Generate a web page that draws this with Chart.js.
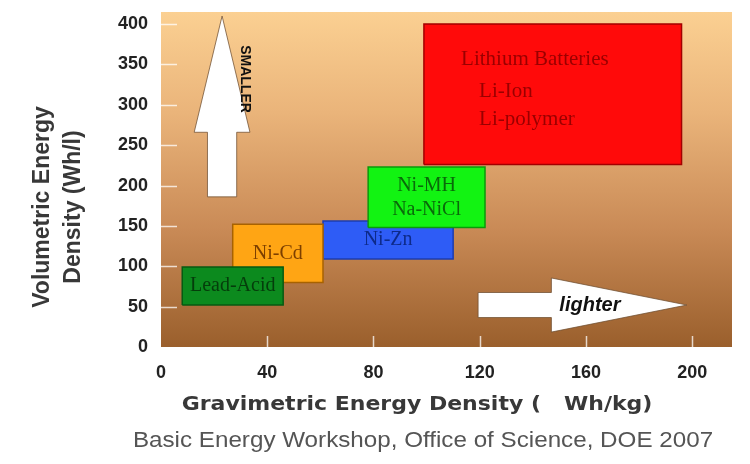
<!DOCTYPE html>
<html>
<head>
<meta charset="utf-8">
<title>Energy density of battery technologies</title>
<style>
  html, body { margin: 0; padding: 0; background: #ffffff; }
  #wrap { width: 750px; height: 464px; }
</style>
<script src="https://cdn.jsdelivr.net/npm/chart.js@4.4.1/dist/chart.umd.min.js"></script>
</head>
<body>
<div id="wrap"><canvas id="chart" width="750" height="464"></canvas></div>
<script>
// Battery technologies and their energy density ranges
const technologies = ['Lead-Acid', 'Ni-Cd', 'Ni-MH', 'Ni-Zn', 'Lithium Batteries'];
const gravMin = [8, 27, 78, 61, 99];      // Wh/kg
const gravMax = [46, 61, 122, 110, 196];  // Wh/kg
const volMin = [52, 80, 148, 109, 226];   // Wh/l
const volMax = [99, 152, 223, 156, 400];  // Wh/l
const boxLabels = [
  ['Lead-Acid'],
  ['Ni-Cd'],
  ['Ni-MH', 'Na-NiCl'],
  ['Ni-Zn'],
  ['Lithium Batteries', 'Li-Ion', 'Li-polymer']
];
const xTicks = [0, 40, 80, 120, 160, 200];
const yTicks = [0, 50, 100, 150, 200, 250, 300, 350, 400];

// Styling for each technology box
const fillColors = ['#0c8a1e', '#ffa514', '#12f312', '#2e5cf6', '#ff0a0a'];
const borderColors = ['#075a12', '#a86200', '#0a9a0a', '#1d3cb0', '#a30000'];
const textColors = ['#053d0b', '#7c3f00', '#0a6a0a', '#0d2a8a', '#9a0000'];

const AXIS_FONT = 'Liberation Sans';

const datasets = technologies.map((name, i) => ({
  label: name,
  data: [
    { x: gravMin[i], y: volMin[i] },
    { x: gravMax[i], y: volMin[i] },
    { x: gravMax[i], y: volMax[i] },
    { x: gravMin[i], y: volMax[i] },
    { x: gravMin[i], y: volMin[i] }
  ],
  showLine: true,
  fill: 'shape',
  backgroundColor: fillColors[i],
  borderColor: borderColors[i],
  borderWidth: 1.5,
  pointRadius: 0,
  pointHoverRadius: 0,
  tension: 0
}));

// Warm gradient behind the plotting area
const backdrop = {
  id: 'backdrop',
  beforeDraw(chart) {
    const { ctx, chartArea: a } = chart;
    const g = ctx.createLinearGradient(0, a.top, 0, a.bottom);
    g.addColorStop(0, '#fbd092');
    g.addColorStop(0.3, '#eab47a');
    g.addColorStop(0.65, '#c98a56');
    g.addColorStop(1, '#9a5f2c');
    ctx.save();
    ctx.fillStyle = g;
    ctx.fillRect(a.left, a.top, a.right - a.left, a.bottom - a.top);
    ctx.restore();
  }
};

// Short white tick marks just inside the plotting area
const innerTicks = {
  id: 'innerTicks',
  beforeDatasetsDraw(chart) {
    const { ctx, chartArea: a, scales: { x, y } } = chart;
    ctx.save();
    ctx.strokeStyle = 'rgba(255,255,255,0.75)';
    ctx.lineWidth = 1.5;
    ctx.beginPath();
    yTicks.forEach(v => {
      if (v === 0) return;
      const py = Math.round(y.getPixelForValue(v)) + 0.5;
      ctx.moveTo(a.left, py);
      ctx.lineTo(a.left + 16, py);
    });
    xTicks.forEach(v => {
      if (v === 0) return;
      const px = Math.round(x.getPixelForValue(v)) + 0.5;
      ctx.moveTo(px, a.bottom);
      ctx.lineTo(px, a.bottom - 11);
    });
    ctx.stroke();
    ctx.restore();
  }
};

// Labels inside the boxes and the two direction arrows
const annotations = {
  id: 'annotations',
  afterDatasetsDraw(chart) {
    const { ctx, scales: { x, y } } = chart;
    ctx.save();
    ctx.textBaseline = 'middle';
    technologies.forEach((name, i) => {
      const lines = boxLabels[i];
      ctx.fillStyle = textColors[i];
      if (lines.length === 3) {
        // lithium box: left-aligned list
        ctx.font = '21px "Liberation Serif"';
        ctx.textAlign = 'left';
        const x0 = x.getPixelForValue(gravMin[i] + 14);
        const yTop = y.getPixelForValue(volMax[i]);
        ctx.fillText(lines[0], x0, yTop + 35);
        ctx.fillText(lines[1], x0 + 18, yTop + 67);
        ctx.fillText(lines[2], x0 + 18, yTop + 95);
      } else {
        ctx.font = '20px "Liberation Serif"';
        ctx.textAlign = 'center';
        const cx = x.getPixelForValue((gravMin[i] + gravMax[i]) / 2);
        const cy = y.getPixelForValue((volMin[i] + volMax[i]) / 2);
        const lh = 24;
        lines.forEach((t, k) => {
          ctx.fillText(t, cx, cy + (k - (lines.length - 1) / 2) * lh);
        });
      }
    });

    ctx.fillStyle = '#ffffff';
    ctx.strokeStyle = 'rgba(110,78,48,0.75)';
    ctx.lineWidth = 1;

    // upward arrow: smaller
    const ux = x.getPixelForValue(23);
    const sw = x.getPixelForValue(23 + 5.5) - ux;
    const hw = x.getPixelForValue(23 + 10.5) - ux;
    const uBase = y.getPixelForValue(186);
    const uNeck = y.getPixelForValue(266);
    const uTip = y.getPixelForValue(410);
    ctx.beginPath();
    ctx.moveTo(ux - sw, uBase);
    ctx.lineTo(ux - sw, uNeck);
    ctx.lineTo(ux - hw, uNeck);
    ctx.lineTo(ux, uTip);
    ctx.lineTo(ux + hw, uNeck);
    ctx.lineTo(ux + sw, uNeck);
    ctx.lineTo(ux + sw, uBase);
    ctx.closePath();
    ctx.fill();
    ctx.stroke();

    // rightward arrow: lighter
    const ry = y.getPixelForValue(52);
    const rsw = y.getPixelForValue(52 - 15.5) - ry;
    const rhw = y.getPixelForValue(52 - 33.5) - ry;
    const rStart = x.getPixelForValue(119.4);
    const rNeck = x.getPixelForValue(147);
    const rTip = x.getPixelForValue(198);
    ctx.beginPath();
    ctx.moveTo(rStart, ry - rsw);
    ctx.lineTo(rNeck, ry - rsw);
    ctx.lineTo(rNeck, ry - rhw);
    ctx.lineTo(rTip, ry);
    ctx.lineTo(rNeck, ry + rhw);
    ctx.lineTo(rNeck, ry + rsw);
    ctx.lineTo(rStart, ry + rsw);
    ctx.closePath();
    ctx.fill();
    ctx.stroke();

    ctx.fillStyle = '#111111';
    ctx.textAlign = 'center';
    ctx.textBaseline = 'middle';
    ctx.font = 'italic bold 20px "Liberation Sans"';
    ctx.fillText('lighter', x.getPixelForValue(161.5), ry);

    ctx.save();
    ctx.translate(x.getPixelForValue(31.6), y.getPixelForValue(332));
    ctx.rotate(Math.PI / 2);
    ctx.font = 'bold 14px "Liberation Sans"';
    ctx.fillText('SMALLER', 0, 0);
    ctx.restore();

    ctx.restore();
  }
};

// Draws a line of text widened horizontally by factor sx around its centre
function wideText(ctx, text, cx, cy, sx) {
  ctx.save();
  ctx.translate(cx, cy);
  ctx.scale(sx, 1);
  ctx.fillText(text, 0, 0);
  ctx.restore();
}

// Axis titles and source line
const titles = {
  id: 'titles',
  afterDraw(chart) {
    const { ctx } = chart;
    ctx.save();
    ctx.fillStyle = '#383838';
    ctx.textAlign = 'center';
    ctx.textBaseline = 'middle';
    ctx.font = 'bold 23px "Liberation Sans"';
    ctx.save();
    ctx.translate(43, 207);
    ctx.rotate(-Math.PI / 2);
    ctx.fillText('Volumetric Energy', 0, 0);
    ctx.fillText('Density (Wh/l)', 0, 31);
    ctx.restore();

    ctx.font = 'bold 20px "DejaVu Sans"';
    wideText(ctx, 'Gravimetric Energy Density (   Wh/kg)', 417, 405, 1.1);

    ctx.fillStyle = '#555555';
    ctx.font = '22px "Liberation Sans"';
    wideText(ctx, 'Basic Energy Workshop, Office of Science, DOE 2007', 423, 441, 1.1);
    ctx.restore();
  }
};

new Chart(document.getElementById('chart'), {
  type: 'scatter',
  data: { datasets },
  options: {
    responsive: false,
    animation: false,
    events: [],
    layout: { padding: { top: 12, right: 18, left: 0, bottom: 0 } },
    plugins: {
      legend: { display: false },
      tooltip: { enabled: false },
      filler: { drawTime: 'beforeDatasetDraw' }
    },
    scales: {
      x: {
        type: 'linear',
        min: 0,
        max: 215,
        afterBuildTicks: s => { s.ticks = xTicks.map(v => ({ value: v })); },
        afterFit: s => { s.height = 117; s.paddingLeft = 0; s.paddingRight = 0; },
        grid: { display: false, drawTicks: false },
        border: { display: false },
        ticks: {
          padding: 15,
          autoSkip: false,
          maxRotation: 0,
          color: '#222222',
          font: { family: AXIS_FONT, weight: 'bold', size: 18 }
        }
      },
      y: {
        type: 'linear',
        min: 0,
        max: 415,
        afterBuildTicks: s => { s.ticks = yTicks.map(v => ({ value: v })); },
        afterFit: s => { s.width = 161; s.paddingTop = 0; s.paddingBottom = 0; },
        grid: { display: false, drawTicks: false },
        border: { display: false },
        ticks: {
          padding: 13,
          autoSkip: false,
          color: '#222222',
          font: { family: AXIS_FONT, weight: 'bold', size: 18 }
        }
      }
    }
  },
  plugins: [backdrop, innerTicks, annotations, titles]
});
</script>
</body>
</html>
